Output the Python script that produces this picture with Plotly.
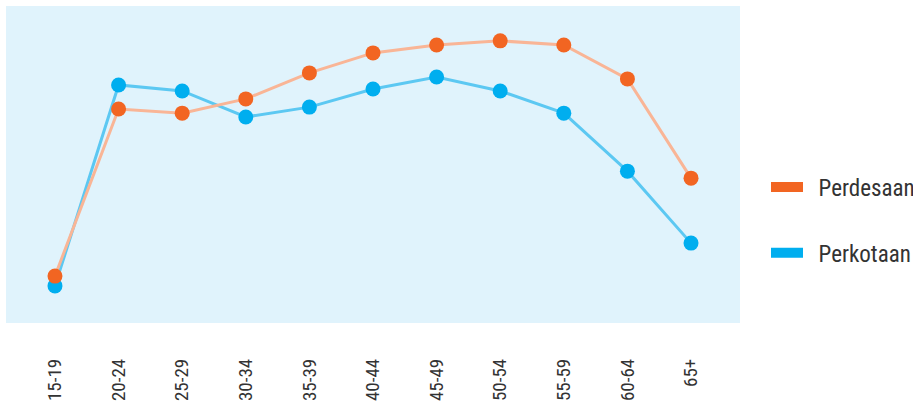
import plotly.graph_objects as go

age_groups = ["15-19", "20-24", "25-29", "30-34", "35-39", "40-44",
              "45-49", "50-54", "55-59", "60-64", "65+"]
perdesaan = [14.8, 67.5, 66.2, 70.7, 78.9, 85.2, 87.7, 89.0, 87.7, 77.0, 45.7]
perkotaan = [11.7, 75.1, 73.2, 65.0, 68.1, 73.8, 77.6, 73.2, 66.2, 47.9, 25.2]

ORANGE = "#F26522"
ORANGE_LINE = "#F9B596"
BLUE = "#00AEEF"
BLUE_LINE = "#5CC8F2"
FONT = "Roboto Condensed, Liberation Sans Narrow, sans-serif"

W = 920  # slightly wider than the window; legend text reaches the edge
fig = go.Figure()
fig.add_trace(go.Scatter(x=age_groups, y=perkotaan, mode="lines+markers",
                         line=dict(color=BLUE_LINE, width=3),
                         marker=dict(color=BLUE, size=15),
                         showlegend=False, name="Perkotaan"))
fig.add_trace(go.Scatter(x=age_groups, y=perdesaan, mode="lines+markers",
                         line=dict(color=ORANGE_LINE, width=3),
                         marker=dict(color=ORANGE, size=15),
                         showlegend=False, name="Perdesaan"))
# legend-only entries with rectangle swatches
fig.add_trace(go.Scatter(x=[None], y=[None], mode="lines",
                         name="\u00a0\u00a0Perdesaan",
                         line=dict(color=ORANGE, width=15), legendgroup="a"))
fig.add_trace(go.Scatter(x=[None], y=[None], mode="lines",
                         name="\u00a0\u00a0Perkotaan",
                         line=dict(color=BLUE, width=15), legendgroup="b"))

fig.update_layout(
    width=W, height=405,
    margin=dict(l=6, r=0, t=6, b=82),
    paper_bgcolor="white",
    plot_bgcolor="#E0F3FC",
    font=dict(family=FONT, color="#333333", size=19),
    legend=dict(x=1, y=0.325, xanchor="right", yanchor="middle",
                font=dict(size=23, color="#333333", family=FONT),
                tracegroupgap=33, itemwidth=32,
                bgcolor="rgba(0,0,0,0)"),
    xaxis=dict(type="category", range=[-0.77, 10.77], showgrid=False,
               domain=[0, 734 / (W - 6)],
               zeroline=False, showline=False, tickangle=-90,
               ticks="", ticklabelstandoff=31, automargin=False,
               tickfont=dict(size=19, family=FONT, color="#333333")),
    yaxis=dict(range=[0, 100], showgrid=False, zeroline=False,
               showticklabels=False, showline=False, automargin=False),
)

fig.write_html("out.html", config={"displayModeBar": False},
               post_script="document.body.style.margin='0';"
                           "document.body.style.overflow='hidden';")
